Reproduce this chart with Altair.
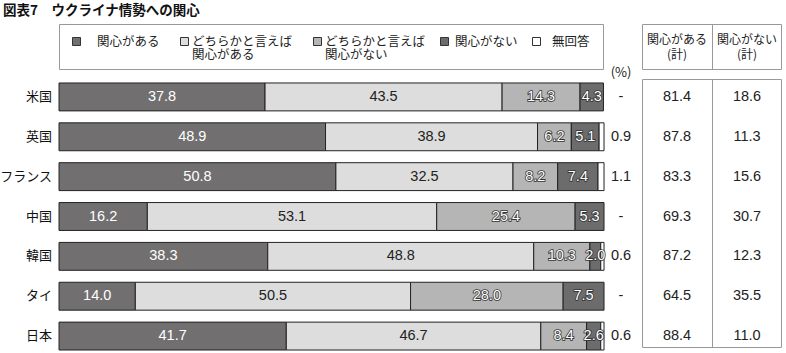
import altair as alt
import pandas as pd

countries = ["米国", "英国", "フランス", "中国", "韓国", "タイ", "日本"]
categories = ["関心がある", "どちらかと言えば関心がある", "どちらかと言えば関心がない", "関心がない", "無回答"]
v_interested = [37.8, 48.9, 50.8, 16.2, 38.3, 14.0, 41.7]
v_somewhat = [43.5, 38.9, 32.5, 53.1, 48.8, 50.5, 46.7]
v_somewhat_not = [14.3, 6.2, 8.2, 25.4, 10.3, 28.0, 8.4]
v_not = [4.3, 5.1, 7.4, 5.3, 2.0, 7.5, 2.6]
v_noanswer = [0.0, 0.9, 1.1, 0.0, 0.6, 0.0, 0.6]
total_yes = ["81.4", "87.8", "83.3", "69.3", "87.2", "64.5", "88.4"]
total_no = ["18.6", "11.3", "15.6", "30.7", "12.3", "35.5", "11.0"]

series = [v_interested, v_somewhat, v_somewhat_not, v_not, v_noanswer]
colors = ["#716f6f", "#dddddd", "#b5b5b5", "#6c6c6c", "#ffffff"]

rows = []
for i, c in enumerate(countries):
    start = 0.0
    for k, cat in enumerate(categories):
        v = series[k][i]
        rows.append({"country": c, "cat": cat, "k": k, "v": v, "x0": start, "x1": start + v,
                     "mid": start + v / 2, "label": f"{v:.1f}"})
        start += v
seg = pd.DataFrame(rows)
seg = seg[seg["v"] > 0]

side = pd.DataFrame({
    "country": countries,
    "na": [f"{v:.1f}" if v > 0 else "-" for v in v_noanswer],
    "yes": total_yes,
    "no": total_no,
})

JP = "Noto Sans CJK JP"
NUM = "Liberation Sans, Arial, sans-serif"
FS = 14.5

xs = alt.Scale(domain=[-10.83, 133.39], nice=False, zero=False)
ys = alt.Scale(domain=countries, range=[77, 356], paddingInner=0.3, paddingOuter=0.15)
Y = alt.Y("country:N", scale=ys, axis=None, sort=countries)

bars = alt.Chart(seg).mark_rect(stroke="#222222", strokeWidth=1).encode(
    x=alt.X("x0:Q", scale=xs, axis=None),
    x2="x1:Q",
    y=Y,
    fill=alt.Fill("cat:N", scale=alt.Scale(domain=categories, range=colors), legend=None),
)

lab1 = alt.Chart(seg[seg["k"] == 0]).mark_text(font=NUM, fontSize=FS, color="white").encode(
    x=alt.X("mid:Q", scale=xs), y=Y, text="label:N")
lab2 = alt.Chart(seg[seg["k"] == 1]).mark_text(font=NUM, fontSize=FS, color="#222222").encode(
    x=alt.X("mid:Q", scale=xs), y=Y, text="label:N")
outl = seg[(seg["k"] == 2) | (seg["k"] == 3)]
lab3s = alt.Chart(outl).mark_text(font=NUM, fontSize=FS, color="#333333", stroke="#333333",
                                  strokeWidth=1.6).encode(
    x=alt.X("mid:Q", scale=xs), y=Y, text="label:N")
lab3 = alt.Chart(outl).mark_text(font=NUM, fontSize=FS, color="white").encode(
    x=alt.X("mid:Q", scale=xs), y=Y, text="label:N")

ylab = alt.Chart(side).mark_text(font=JP, fontSize=13, align="right", color="#111111").encode(
    x=alt.value(52), y=Y, text="country:N")
na_t = alt.Chart(side).mark_text(font=NUM, fontSize=FS, color="#222222").encode(
    x=alt.value(621), y=Y, text="na:N")
yes_t = alt.Chart(side).mark_text(font=NUM, fontSize=FS, color="#222222").encode(
    x=alt.value(677), y=Y, text="yes:N")
no_t = alt.Chart(side).mark_text(font=NUM, fontSize=FS, color="#222222").encode(
    x=alt.value(747), y=Y, text="no:N")

deco = []
# title
deco.append(alt.Chart().mark_text(font=JP, fontSize=13.5, fontWeight="bold", align="left",
                                   baseline="middle", color="#111111").encode(
    x=alt.value(3), y=alt.value(11), text=alt.value("図表7　ウクライナ情勢への関心")))
# legend box
deco.append(alt.Chart().mark_rect(fill="white", stroke="#999999", strokeWidth=1).encode(
    x=alt.value(59.5), x2=alt.value(603.5), y=alt.value(24.5), y2=alt.value(69.5)))
leg_sq = [72, 180, 313, 440, 532]
leg_tx = [97, 192, 325, 455, 552]
leg_lines = ["関心がある", "どちらかと言えば\n関心がある", "どちらかと言えば\n関心がない",
             "関心がない", "無回答"]
for k in range(5):
    deco.append(alt.Chart().mark_rect(fill=colors[k], stroke="#333333", strokeWidth=1).encode(
        x=alt.value(leg_sq[k] + 0.5), x2=alt.value(leg_sq[k] + 8.5),
        y=alt.value(37.5), y2=alt.value(45.5)))
    deco.append(alt.Chart().mark_text(font=JP, fontSize=12.5, align="left", baseline="top",
                                       lineBreak="\n", lineHeight=13.5, color="#222222").encode(
        x=alt.value(leg_tx[k]), y=alt.value(35.5), text=alt.value(leg_lines[k])))
# (%)
deco.append(alt.Chart().mark_text(font=JP, fontSize=13, color="#222222").encode(
    x=alt.value(621), y=alt.value(73), text=alt.value("(%)")))
# table boxes
deco.append(alt.Chart().mark_rect(fill="white", stroke="#999999", strokeWidth=1).encode(
    x=alt.value(642.5), x2=alt.value(781.5), y=alt.value(24.5), y2=alt.value(69.5)))
deco.append(alt.Chart().mark_rect(fill="white", stroke="#999999", strokeWidth=1).encode(
    x=alt.value(642.5), x2=alt.value(781.5), y=alt.value(79.5), y2=alt.value(347.5)))
deco.append(alt.Chart().mark_rule(stroke="#999999", strokeWidth=1).encode(
    x=alt.value(712.5), y=alt.value(24.5), y2=alt.value(69.5)))
deco.append(alt.Chart().mark_rule(stroke="#999999", strokeWidth=1).encode(
    x=alt.value(712.5), y=alt.value(79.5), y2=alt.value(347.5)))
for cx, t in [(677, "関心がある\n(計)"), (747, "関心がない\n(計)")]:
    deco.append(alt.Chart().mark_text(font=JP, fontSize=12, baseline="top", lineBreak="\n",
                                       lineHeight=15, color="#222222").encode(
        x=alt.value(cx), y=alt.value(35), text=alt.value(t)))

chart = alt.layer(*deco, bars, lab1, lab2, lab3s, lab3, ylab, na_t, yes_t, no_t).properties(
    width=786, height=353, padding=0, autosize=alt.AutoSizeParams(type="none"),
    background="white",
).configure_view(stroke=None)

chart.save("out.html", embed_options={"renderer": "svg", "actions": False})
